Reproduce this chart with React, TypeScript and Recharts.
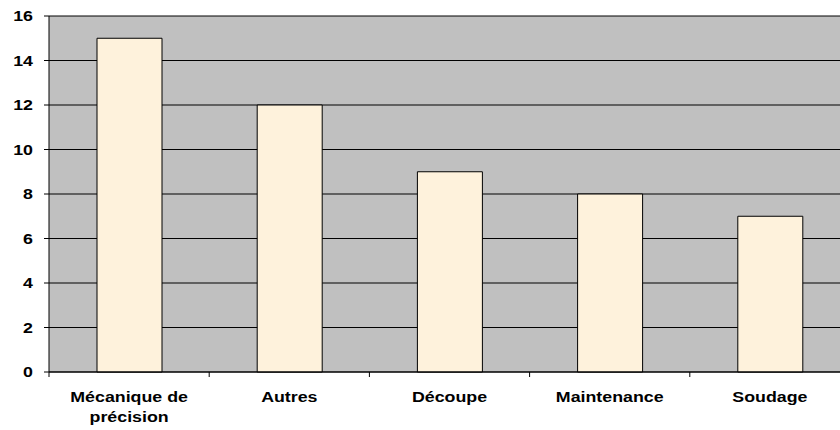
import React from "react";
import { BarChart, Bar, XAxis, YAxis, CartesianGrid, Text } from "recharts";

const categories = ["Mécanique de précision", "Autres", "Découpe", "Maintenance", "Soudage"];
const counts = [15, 12, 9, 8, 7];
const yTicks = [0, 2, 4, 6, 8, 10, 12, 14, 16];

const data = categories.map((name, i) => ({ name, value: counts[i] }));

const FONT = "'Liberation Sans', Arial, sans-serif";
const STRETCH = 1.27;

function YTick(props: any) {
  const { x, y, payload } = props;
  return (
    <g transform={`translate(${x},${y}) scale(${STRETCH},1)`}>
      <text x={0} y={0} dy="0.36em" textAnchor="end" fontFamily={FONT} fontWeight="bold" fontSize={14} fill="#000">
        {payload.value}
      </text>
    </g>
  );
}

function XTick(props: any) {
  const { x, y, payload, index } = props;
  const half = payload.offset || 80;
  const last = index === categories.length - 1;
  return (
    <g>
      <line x1={x - half} y1={y} x2={x - half} y2={y + 5} stroke="#000" />
      {last && <line x1={x + half} y1={y} x2={x + half} y2={y + 5} stroke="#000" />}
      <g transform={`translate(${x},${y}) scale(${STRETCH},1)`}>
        <Text
          x={0}
          y={20}
          width={100}
          lineHeight={20}
          textAnchor="middle"
          verticalAnchor="start"
          fontFamily={FONT}
          fontWeight="bold"
          fontSize={14}
          fill="#000"
        >
          {payload.value}
        </Text>
      </g>
    </g>
  );
}

export default function App() {
  return (
    <div style={{ position: "fixed", top: 0, left: 0, width: 840, height: 430, overflow: "hidden", background: "#fff" }}>
      <BarChart
        width={860}
        height={430}
        data={data}
        margin={{ top: 16, right: 10, bottom: 0, left: 0 }}
        barSize={65}
      >
        <CartesianGrid vertical={false} fill="#C0C0C0" stroke="#000" strokeOpacity={1} />
        <XAxis
          dataKey="name"
          height={58}
          interval={0}
          tickLine={false}
          tickSize={0}
          tickMargin={0}
          axisLine={{ stroke: "#000" }}
          tick={<XTick />}
        />
        <YAxis
          width={49}
          domain={[0, 16]}
          ticks={yTicks}
          interval={0}
          tickSize={5}
          tickMargin={11}
          axisLine={{ stroke: "#000" }}
          tickLine={{ stroke: "#000" }}
          tick={<YTick />}
        />
        <Bar dataKey="value" fill="#FEF2DC" stroke="#000" strokeWidth={1} isAnimationActive={false} />
      </BarChart>
    </div>
  );
}
